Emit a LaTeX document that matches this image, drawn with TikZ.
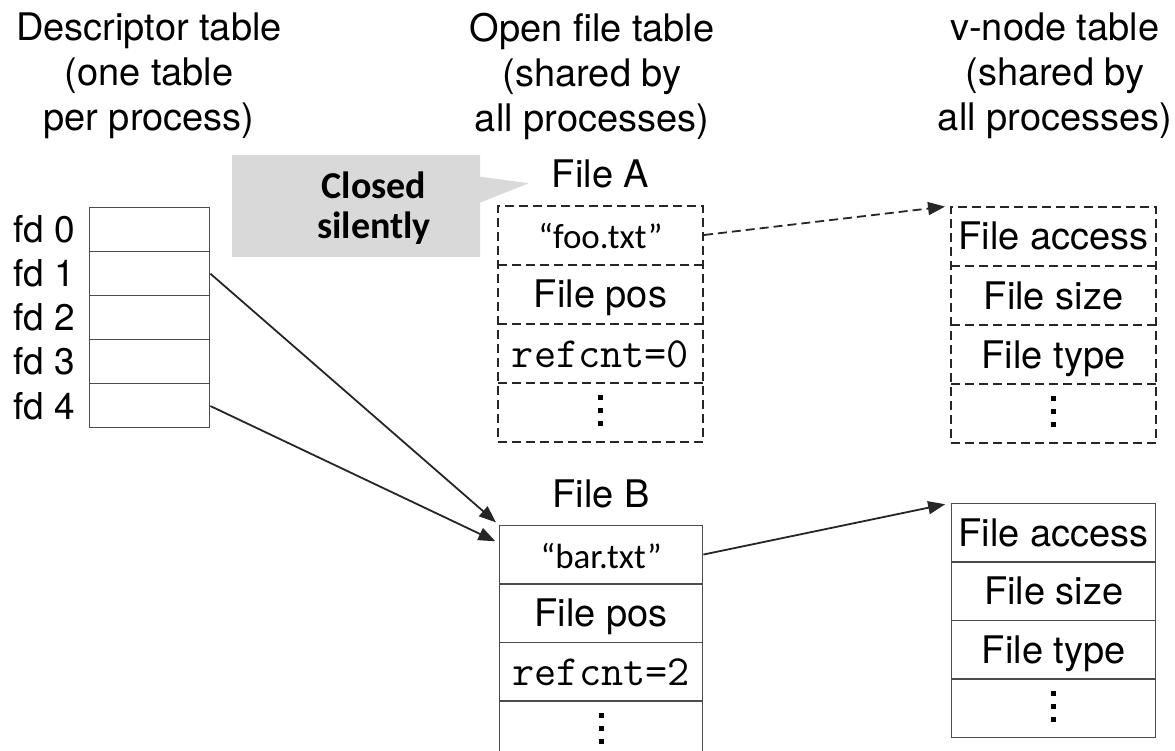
\documentclass[tikz,border=0pt]{standalone}
\usepackage{fontspec}
\setmainfont{TeX Gyre Heros}
\newfontfamily\calibri{Carlito}
\usepackage{tikz}
\usetikzlibrary{positioning,calc,shapes.multipart,shapes.callouts,arrows.meta}

% one row of a table, fixed height
\newcommand{\rowtext}[1]{\rule[-15pt]{0pt}{57pt}#1}
\newcommand{\fdrow}{\rule[-14pt]{0pt}{42.6pt}}
\newcommand{\onedot}{\hbox{\rule{5pt}{5pt}}}
\newcommand{\moredots}{\vbox{\offinterlineskip\onedot\kern8pt\onedot\kern8pt\onedot}}
\newcommand{\fname}[1]{{\calibri\fontsize{35}{35}\selectfont “#1”}}
\newcommand{\refcnt}[1]{{\ttfamily\fontsize{43}{43}\selectfont refcnt=#1}}

\begin{document}
\begin{tikzpicture}[x=1pt,y=-1pt,
  heading/.style={font=\fontsize{38}{45}\selectfont,align=center,anchor=north,inner sep=0pt},
  fdlab/.style={font=\fontsize{37}{45}\selectfont,inner sep=0pt,anchor=east,xshift=-14pt},
  ftable/.style={rectangle split,rectangle split parts=#1,draw=black!70,line width=1.4pt,inner sep=0pt,font=\fontsize{38}{45}\selectfont,anchor=north west},
  dashtable/.style={ftable=#1,draw=black!85,dash pattern=on 9pt off 5pt,line width=2pt},
  tname/.style={font=\fontsize{38}{45}\selectfont,inner sep=0pt},
  link/.style={->,line width=1.8pt,black!85},
  note/.style={rectangle callout,fill=black!15,minimum width=248pt,minimum height=102pt,callout pointer width=26pt},
  notetext/.style={font=\calibri\bfseries\fontsize{38}{40}\selectfont,align=center,inner sep=0pt},
  >={Triangle[length=17pt,width=13pt]},
]
\useasboundingbox (0,0) rectangle (1175,751);

% Headings
\node[heading] (hdesc) at (149,13) {Descriptor table\\(one table\\per process)};
\node[heading] (hopen) at (592,13) {Open file table\\(shared by\\all processes)};
\node[heading] (hvnode) at (1055,13) {v-node table\\(shared by\\all processes)};

% Descriptor table
\node[ftable=5,minimum width=120pt] (desc) at (89,207)
  {\fdrow \nodepart{two}\fdrow \nodepart{three}\fdrow \nodepart{four}\fdrow \nodepart{five}\fdrow};
\foreach \i/\a/\b in {0/north west/text split west, 1/text split west/two split west,
    2/two split west/three split west, 3/three split west/four split west, 4/four split west/south west}
  \node[fdlab] (fd\i) at ($(desc.\a)!.5!(desc.\b)$) {fd \i};

% File A (closed) and its v-node
\node[dashtable=4,minimum width=205pt] (fileA) at (497,205)
  {\rowtext{\fname{foo.txt}} \nodepart{two}\rowtext{File pos}
   \nodepart{three}\rowtext{\refcnt{0}} \nodepart{four}\rowtext{\moredots}};
\node[tname,above=17pt of fileA] (fileAlab) {File A};
\node[dashtable=4,minimum width=205pt] (vnodeA) at (950,206)
  {\rowtext{File access} \nodepart{two}\rowtext{File size}
   \nodepart{three}\rowtext{File type} \nodepart{four}\rowtext{\moredots}};

% File B and its v-node
\node[ftable=4,minimum width=203pt] (fileB) at (499,525)
  {\rowtext{\fname{bar.txt}} \nodepart{two}\rowtext{File pos}
   \nodepart{three}\rowtext{\refcnt{2}} \nodepart{four}\rowtext{\moredots}};
\node[tname,above=17pt of fileB] (fileBlab) {File B};
\node[ftable=4,minimum width=204pt] (vnodeB) at (951,503)
  {\rowtext{File access} \nodepart{two}\rowtext{File size}
   \nodepart{three}\rowtext{File type} \nodepart{four}\rowtext{\moredots}};

% Callout
\node[note,callout absolute pointer={($(fileAlab.base west)+(-23,-4)$)}] (callout) at (356,206) {};
\node[notetext] (callouttxt) at (374,208) {Closed\\silently};

% Links
\draw[link,dash pattern=on 9pt off 5pt,shorten >=5pt]
  ($(fileA.north east)!.5!(fileA.text split east)$) -- (vnodeA.north west);
\draw[link,shorten >=4pt] ($(desc.text split east)!.5!(desc.two split east)$) -- (fileB.north west);
\draw[link,shorten >=4pt] ($(desc.four split east)!.5!(desc.south east)$) -- ($(fileB.north west)+(0,18)$);
\draw[link,shorten >=6pt] ($(fileB.north east)!.5!(fileB.text split east)$) -- (vnodeB.north west);

\end{tikzpicture}
\end{document}
